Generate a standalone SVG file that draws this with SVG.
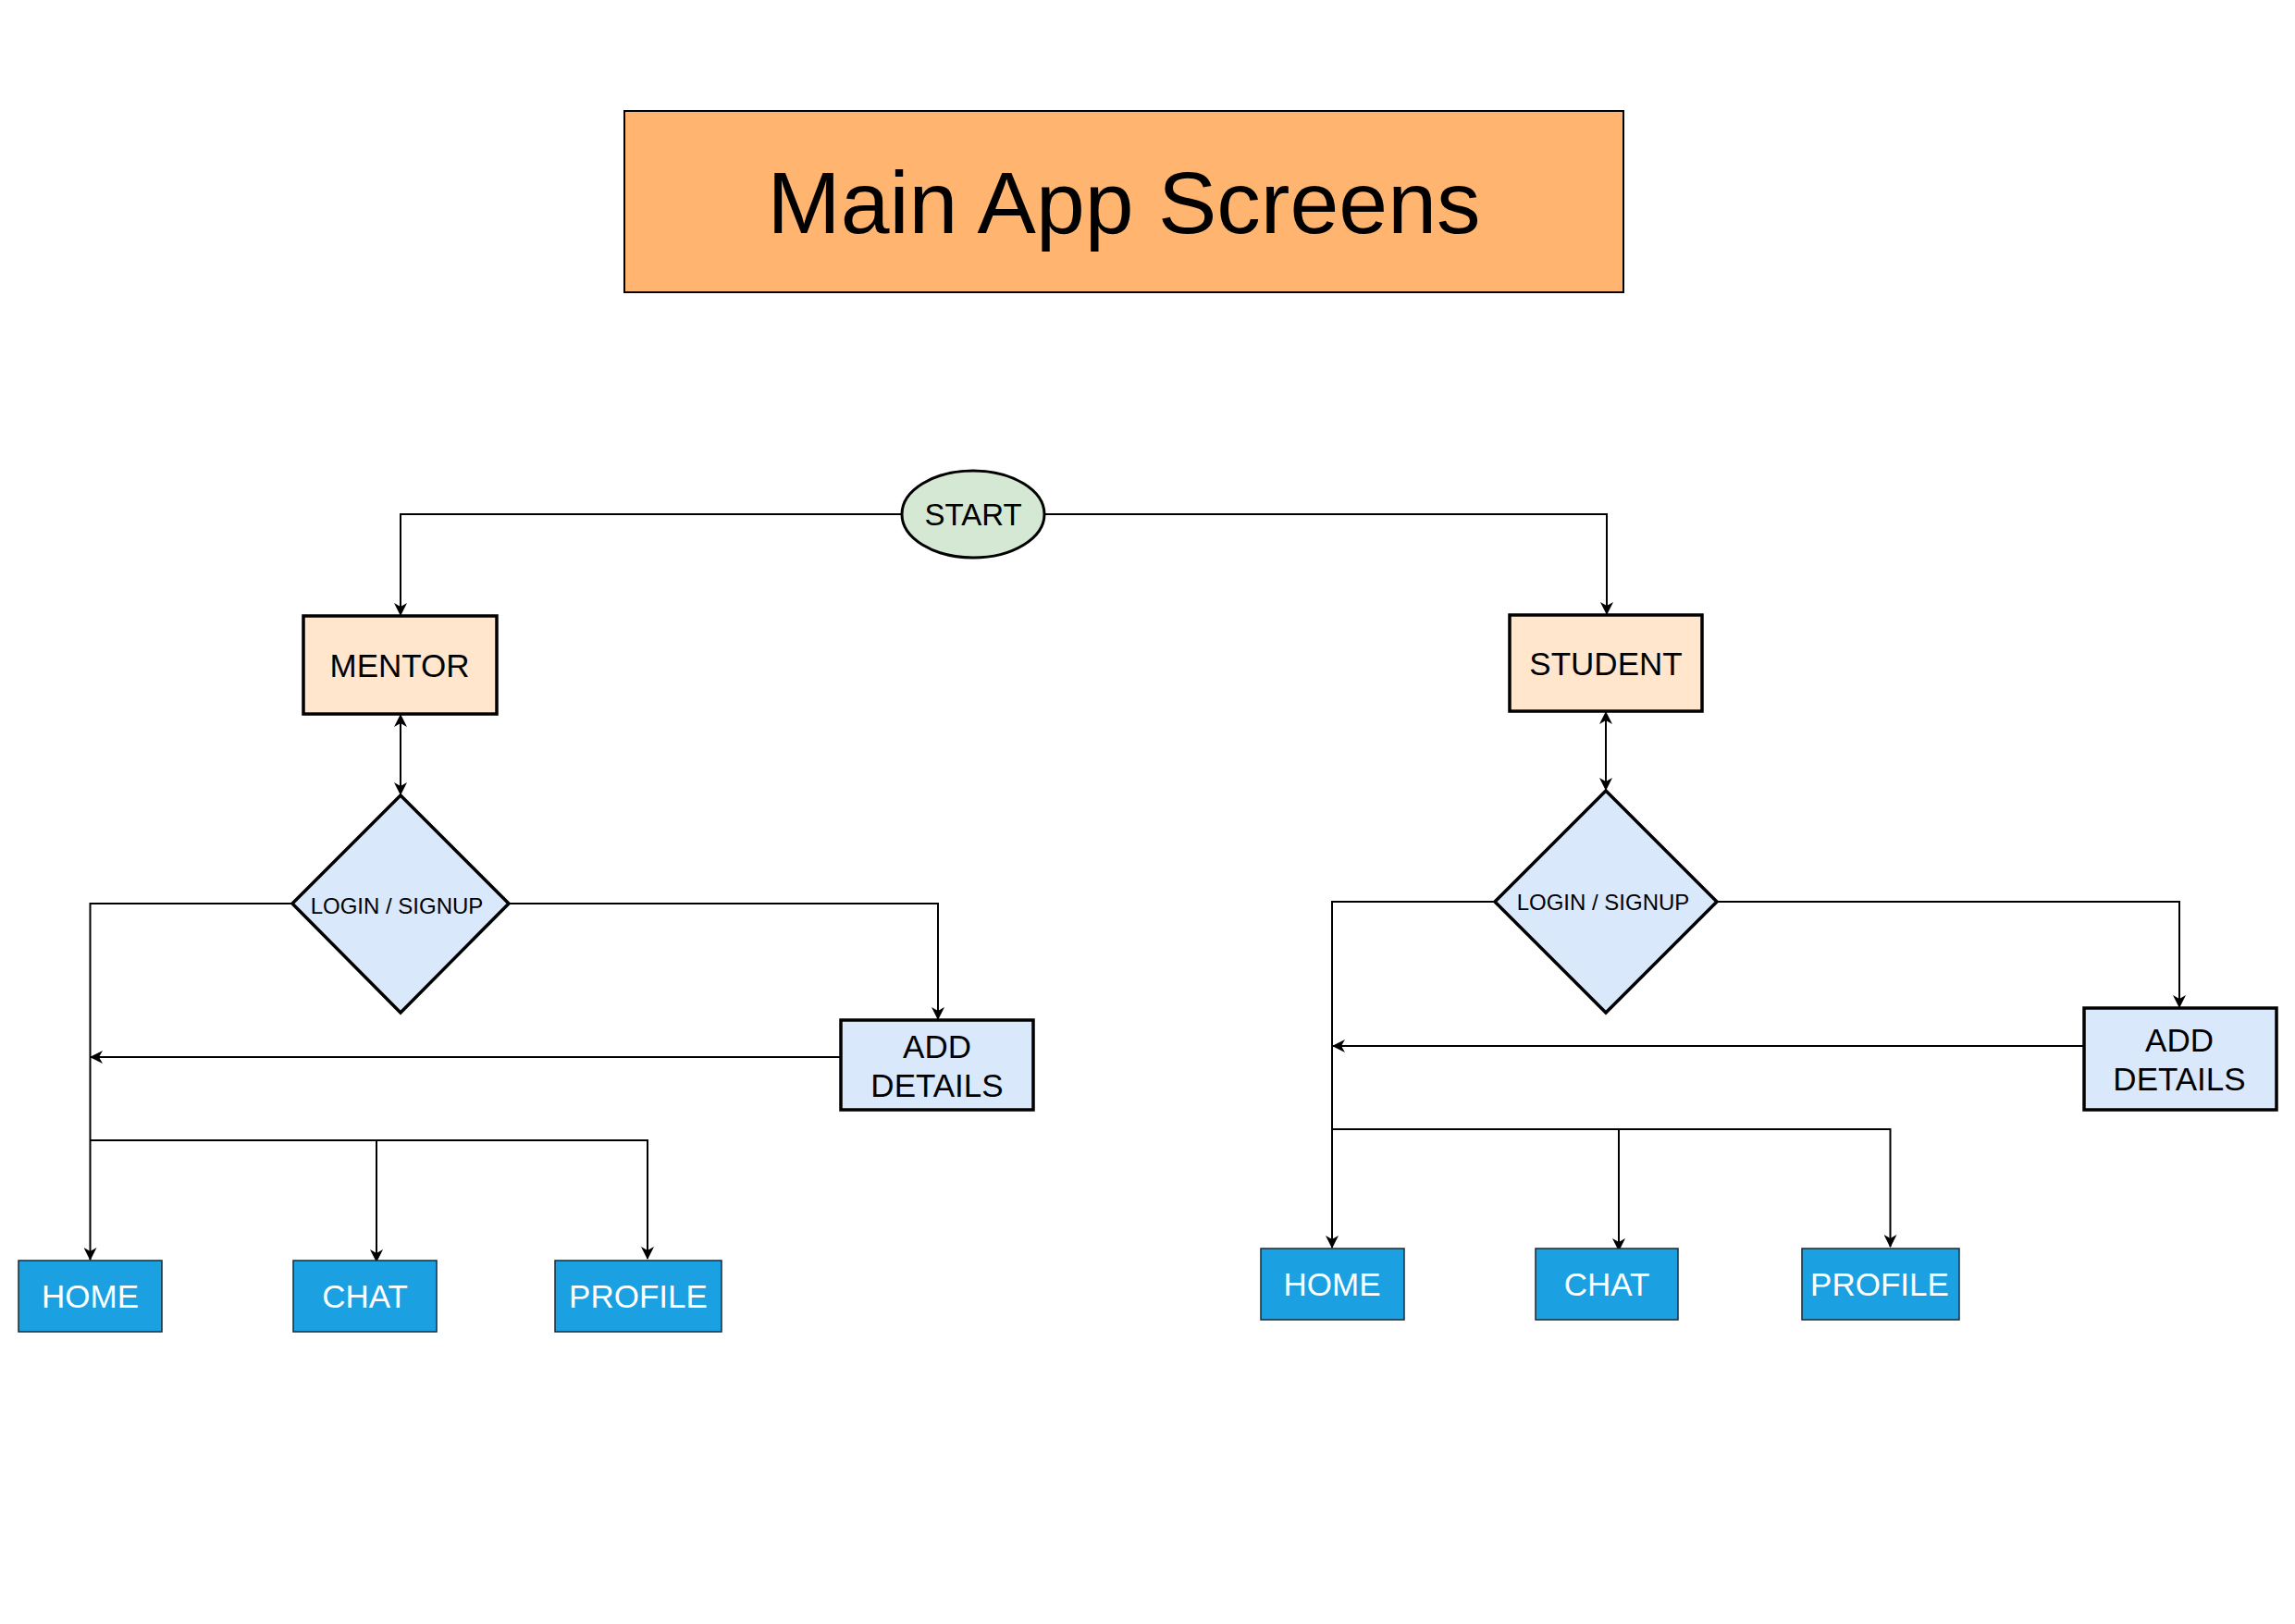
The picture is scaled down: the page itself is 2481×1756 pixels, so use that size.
<svg xmlns="http://www.w3.org/2000/svg" width="2481" height="1756" viewBox="0 0 2481 1756">
<style>
text{font-family:"Liberation Sans",Arial,sans-serif;text-anchor:middle}
.c{fill:none;stroke:#000;stroke-width:2}
.role{fill:#FFE6CC;stroke:#000;stroke-width:3.5}
.dia{fill:#DAE8FC;stroke:#000;stroke-width:3.5}
.add{fill:#DAE8FC;stroke:#000;stroke-width:3.5}
.scr{fill:#1BA1E2;stroke:#1a2a33;stroke-width:1.5}
.t35{font-size:35px;fill:#000}
.w35{font-size:35px;fill:#fff}
.t24{font-size:24px;fill:#000}
</style>
<defs>
<marker id="ah" viewBox="0 0 14 14" refX="13" refY="7" markerWidth="14" markerHeight="14" markerUnits="userSpaceOnUse" orient="auto-start-reverse">
<path d="M0,0 L14,7 L0,14 L4,7 Z" fill="#000"/>
</marker>
</defs>
<rect x="0" y="0" width="2481" height="1756" fill="#fff"/>

<g id="connectors">
<!-- START to MENTOR / STUDENT -->
<path class="c" d="M975,556 H433 V665" marker-end="url(#ah)"/>
<path class="c" d="M1129,556 H1737 V664" marker-end="url(#ah)"/>
<!-- role <-> diamond -->
<path class="c" d="M433,773 V859" marker-start="url(#ah)" marker-end="url(#ah)"/>
<path class="c" d="M1736,770 V854" marker-start="url(#ah)" marker-end="url(#ah)"/>
<!-- mentor branch -->
<path class="c" d="M316,977 H97.5 V1362" marker-end="url(#ah)"/>
<path class="c" d="M550,977 H1014 V1102" marker-end="url(#ah)"/>
<path class="c" d="M909,1143 H98" marker-end="url(#ah)"/>
<path class="c" d="M97.5,1233 H700 V1361" marker-end="url(#ah)"/>
<path class="c" d="M407,1233 V1364" marker-end="url(#ah)"/>
<!-- student branch -->
<path class="c" d="M1616,975 H1440 V1349" marker-end="url(#ah)"/>
<path class="c" d="M1856,975 H2356 V1089" marker-end="url(#ah)"/>
<path class="c" d="M2253,1131 H1441" marker-end="url(#ah)"/>
<path class="c" d="M1440,1221 H2043.5 V1348" marker-end="url(#ah)"/>
<path class="c" d="M1750,1221 V1352" marker-end="url(#ah)"/>
</g>

<g id="title">
<rect x="675" y="120" width="1080" height="196" fill="#FFB570" stroke="#000" stroke-width="2"/>
<text x="1215" y="252" font-size="95" fill="#000">Main App Screens</text>
</g>

<g id="start">
<ellipse cx="1052" cy="556" rx="77" ry="47" fill="#D5E8D4" stroke="#000" stroke-width="3"/>
<text x="1052" y="568" font-size="33" fill="#000">START</text>
</g>

<g id="mentor">
<rect class="role" x="328" y="666" width="209" height="106"/>
<text class="t35" x="432" y="732">MENTOR</text>
</g>

<g id="mentor-login">
<polygon class="dia" points="433,860 550,977 433,1095 316,977"/>
<text class="t24" x="429" y="988">LOGIN / SIGNUP</text>
</g>

<g id="mentor-add-details">
<rect class="add" x="909" y="1103" width="208" height="97"/>
<text class="t35" x="1013" y="1143.5">ADD</text>
<text class="t35" x="1013" y="1185.5">DETAILS</text>
</g>

<g id="mentor-home">
<rect class="scr" x="20" y="1363" width="155" height="77"/>
<text class="w35" x="97.5" y="1414">HOME</text>
</g>
<g id="mentor-chat">
<rect class="scr" x="317" y="1363" width="155" height="77"/>
<text class="w35" x="394.5" y="1414">CHAT</text>
</g>
<g id="mentor-profile">
<rect class="scr" x="600" y="1363" width="180" height="77"/>
<text class="w35" x="690" y="1414">PROFILE</text>
</g>

<g id="student">
<rect class="role" x="1632" y="665" width="208" height="104"/>
<text class="t35" x="1736" y="730">STUDENT</text>
</g>

<g id="student-login">
<polygon class="dia" points="1736,855 1856,975 1736,1095 1616,975"/>
<text class="t24" x="1733" y="984">LOGIN / SIGNUP</text>
</g>

<g id="student-add-details">
<rect class="add" x="2253" y="1090" width="208" height="110"/>
<text class="t35" x="2356" y="1137">ADD</text>
<text class="t35" x="2356" y="1179">DETAILS</text>
</g>

<g id="student-home">
<rect class="scr" x="1363" y="1350" width="155" height="77"/>
<text class="w35" x="1440" y="1401">HOME</text>
</g>
<g id="student-chat">
<rect class="scr" x="1660" y="1350" width="154" height="77"/>
<text class="w35" x="1737" y="1401">CHAT</text>
</g>
<g id="student-profile">
<rect class="scr" x="1948" y="1350" width="170" height="77"/>
<text class="w35" x="2032" y="1401">PROFILE</text>
</g>
</svg>
